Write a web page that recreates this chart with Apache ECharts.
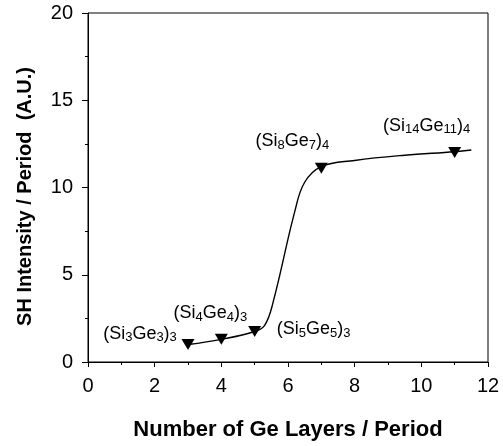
<!DOCTYPE html>
<html>
<head>
<meta charset="utf-8">
<script src="https://cdn.jsdelivr.net/npm/echarts@6/dist/echarts.min.js"></script>
<style>
html, body { margin: 0; padding: 0; background: #fff; }
#chart { width: 503px; height: 446px; }
</style>
</head>
<body>
<div id="chart"></div>
<script>
// measured points
var layers = [3, 4, 5, 7, 11]
var intensity = [1.0, 1.3, 1.75, 11.1, 12.0]
// label text: [Si count, Ge count, periods]
var sampleSi = ['3', '4', '5', '8', '14']
var sampleGe = ['3', '4', '5', '7', '11']
var samplePeriods = ['3', '3', '3', '4', '4']
// guide curve
var curveX = [3, 4, 5, 5.3, 5.55, 6.2, 6.5, 7, 8, 9.5, 11, 11.5]
var curveY = [1.0, 1.3, 1.75, 2.1, 3.4, 8.6, 10.3, 11.2, 11.55, 11.85, 12.05, 12.15]
// axis ticks
var xTicks = [0, 2, 4, 6, 8, 10, 12]
var yTicks = [0, 5, 10, 15, 20]

var labelOffsets = [[-48, -11], [-11, -26], [59, -2], [-29, -27], [-28, -27]]
var font = 'Liberation Sans, Arial, Helvetica, sans-serif'

var chart = echarts.init(document.getElementById('chart'))

var pointData = layers.map(function (x, i) {
    return {
        value: [x, intensity[i]],
        label: {
            show: true,
            position: 'inside',
            offset: labelOffsets[i],
            formatter: '{m|(Si}{s|' + sampleSi[i] + '}{m|Ge}{s|' + sampleGe[i] + '}{m|)}{s|' + samplePeriods[i] + '}'
        }
    }
})

var option = {
    animation: false,
    grid: {
        left: 88, right: 15, top: 13, bottom: 84,
        containLabel: false,
        outerBoundsMode: 'none',
        show: true, borderColor: '#000', borderWidth: 1
    },
    xAxis: {
        type: 'value',
        min: xTicks[0], max: xTicks[xTicks.length - 1], interval: 2,
        axisLine: { lineStyle: { color: '#000', width: 1 } },
        axisTick: { show: true, length: 5, lineStyle: { color: '#000' } },
        minorTick: { show: true, splitNumber: 2, length: 3, lineStyle: { color: '#000' } },
        splitLine: { show: false },
        axisLabel: { color: '#000', fontSize: 20, fontFamily: font, margin: 14 },
        name: 'Number of Ge Layers / Period',
        nameLocation: 'middle',
        nameGap: 57,
        nameTextStyle: { color: '#000', fontSize: 22, fontWeight: 'bold', fontFamily: font }
    },
    yAxis: {
        type: 'value',
        min: yTicks[0], max: yTicks[yTicks.length - 1], interval: 5,
        axisLine: { show: true, lineStyle: { color: '#000', width: 1 } },
        axisTick: { show: true, length: 6, lineStyle: { color: '#000' } },
        minorTick: { show: true, splitNumber: 2, length: 3, lineStyle: { color: '#000' } },
        splitLine: { show: false },
        axisLabel: { color: '#000', fontSize: 20, fontFamily: font, margin: 15 },
        name: 'SH Intensity / Period  (A.U.)',
        nameLocation: 'middle',
        nameGap: 53,
        nameTextStyle: { color: '#000', fontSize: 20, fontWeight: 'bold', fontFamily: font, padding: [0, 18, 0, 0] }
    },
    series: [
        {
            type: 'line',
            data: curveX.map(function (x, i) { return [x, curveY[i]] }),
            smooth: 0.4,
            showSymbol: false,
            lineStyle: { color: '#000', width: 1.4 },
            z: 2
        },
        {
            type: 'scatter',
            data: pointData,
            symbol: 'triangle',
            symbolRotate: 180,
            symbolSize: [13, 11],
            itemStyle: { color: '#000', opacity: 1 },
            label: {
                color: '#000',
                fontFamily: font,
                opacity: 1,
                textBorderWidth: 0,
                rich: {
                    m: { fontSize: 18, lineHeight: 21, fontFamily: font, color: '#000', textBorderWidth: 0 },
                    s: { fontSize: 13, lineHeight: 14, verticalAlign: 'bottom', fontFamily: font, color: '#000', textBorderWidth: 0 }
                }
            },
            z: 3
        }
    ]
}

chart.setOption(option)
</script>
</body>
</html>
